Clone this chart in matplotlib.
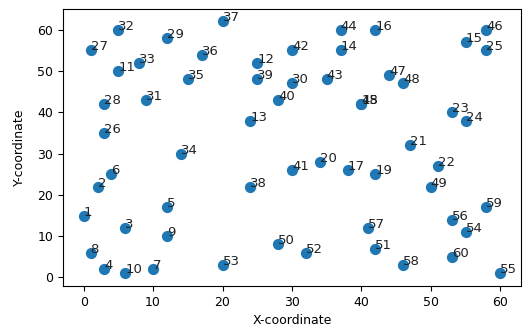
import matplotlib
matplotlib.use("Agg")
from matplotlib import pyplot as plt

# node coordinates, node ids start at 1
x = [0, 2, 6, 3, 12, 4, 10, 1, 12, 6,
     5, 25, 24, 37, 55, 42, 38, 40, 42, 34,
     47, 51, 53, 55, 58, 3, 1, 3, 12, 30,
     9, 5, 8, 14, 15, 17, 20, 24, 25, 28,
     30, 30, 35, 37, 40, 58, 44, 46, 50, 28,
     42, 32, 20, 55, 60, 53, 41, 46, 58, 53]
y = [15, 22, 12, 2, 17, 25, 2, 6, 10, 1,
     50, 52, 38, 55, 57, 60, 26, 42, 25, 28,
     32, 27, 40, 38, 55, 35, 55, 42, 58, 47,
     43, 60, 52, 30, 48, 54, 62, 22, 48, 43,
     26, 55, 48, 60, 42, 60, 49, 47, 22, 8,
     7, 6, 3, 11, 1, 14, 12, 3, 17, 5]
labels = [str(i + 1) for i in range(len(x))]

fig = plt.figure(figsize=(5.28, 3.29), dpi=100)
ax = fig.add_axes([0.119, 0.131, 0.868, 0.842])

ax.scatter(x, y, s=50, color="#1f77b4")
for i, txt in enumerate(labels):
    ax.annotate(txt, (x[i], y[i]), fontsize=9.5, color="#222222")

ax.set_xlabel("X-coordinate", fontsize=9)
ax.set_ylabel("Y-coordinate", fontsize=9, labelpad=8)
ax.tick_params(labelsize=9)

fig.savefig("out.png", dpi=100)
